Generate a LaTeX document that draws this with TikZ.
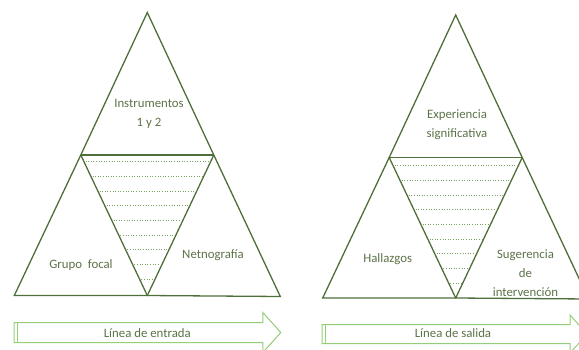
\documentclass[tikz,border=0pt]{standalone}
\usepackage{fontspec}
\setmainfont{Carlito}
\usepackage{tikz}
\usetikzlibrary{positioning}
\definecolor{tridark}{RGB}{78,110,58}
\definecolor{hatchgreen}{RGB}{120,160,95}
\definecolor{arrowgreen}{RGB}{150,205,120}
\definecolor{labelgray}{RGB}{92,114,72}
\tikzstyle{tri}=[draw=tridark,line width=1.3pt,line join=miter]
\tikzstyle{topbase}=[draw=tridark,line width=1.9pt]
\tikzstyle{hatch}=[draw=hatchgreen,line width=0.8pt,dash pattern=on 1pt off 1.6pt]
\tikzstyle{band}=[draw=arrowgreen,line width=1pt,fill=white,line join=miter]
\tikzstyle{label}=[text=labelgray,align=center,font=\fontsize{12.8}{19}\selectfont,inner sep=0pt]

\begin{document}
\begin{tikzpicture}[x=1pt,y=-1pt]
  \useasboundingbox (0,0) rectangle (579,349);
  \clip (0,0) rectangle (579,349);

  % entrada
  \begin{scope}[shift={(147.3,12.5)}]
    \coordinate (EA)  at (0,0);
    \coordinate (ETL) at (-66.5,142.5);
    \coordinate (ETR) at (66.5,142.5);
    \coordinate (EBL) at (-133,283);
    \coordinate (EBM) at (0,283);
    \coordinate (EBR) at (133,284);
    \foreach \i in {0,...,8} {
      \pgfmathsetmacro\yy{149+14.7*\i}
      \pgfmathsetmacro\hw{66.5*(283-\yy)/140.5-1.8}
      \draw[hatch] (-\hw,\yy) -- (\hw,\yy);
    }
    \draw[tri] (EA) -- (ETR) -- (EBR) -- (EBM) -- (ETL) -- cycle;
    \draw[tri] (ETL) -- (EBL) -- (EBM) -- (ETR);
    \draw[topbase] (ETL) -- (ETR);
    \node[label] (instr) at (1.7,101) {Instrumentos\\1 y 2};
    \node[label] (grupo) at (-66.3,252.5) {Grupo\ \ focal};
    \node[label] (netno) at (65.7,242.5) {Netnografía};
    % flecha
    \draw[band] (-133.3,310) -- (115.5,310) -- (115.5,300) -- (133.5,320)
      -- (115.5,340) -- (115.5,330) -- (-133.3,330) -- cycle;
    \draw[arrowgreen,line width=1pt] (-129.5,310) -- (-129.5,330);
    \node[label] (entrada) at (0,320.5) {Línea de entrada};
  \end{scope}

  % salida
  \begin{scope}[shift={(455.7,15)}]
    \coordinate (SA)  at (0,0);
    \coordinate (STL) at (-66.5,142.5);
    \coordinate (STR) at (66.5,142.5);
    \coordinate (SBL) at (-133,283);
    \coordinate (SBM) at (0,283);
    \coordinate (SBR) at (133,284);
    \foreach \i in {0,...,8} {
      \pgfmathsetmacro\yy{150.5+14.7*\i}
      \pgfmathsetmacro\hw{66.5*(283-\yy)/140.5-1.8}
      \draw[hatch] (-\hw,\yy) -- (\hw,\yy);
    }
    \draw[tri] (SA) -- (STR) -- (SBR) -- (SBM) -- (STL) -- cycle;
    \draw[tri] (STL) -- (SBL) -- (SBM) -- (STR);
    \draw[topbase] (STL) -- (STR);
    \node[label] (exper) at (1.3,110) {Experiencia\\significativa};
    \node[label] (hall) at (-68,244) {Hallazgos};
    \node[label] (suger) at (69.8,258) {Sugerencia\\de\\intervención};
    % flecha
    \draw[band] (-133.7,309.5) -- (114.3,309.5) -- (114.3,300) -- (131.5,319)
      -- (114.3,338) -- (114.3,328.5) -- (-133.7,328.5) -- cycle;
    \draw[arrowgreen,line width=1pt] (-130,309.5) -- (-130,328.5);
    \node[label] (salida) at (-2.7,318) {Línea de salida};
  \end{scope}
\end{tikzpicture}
\end{document}
